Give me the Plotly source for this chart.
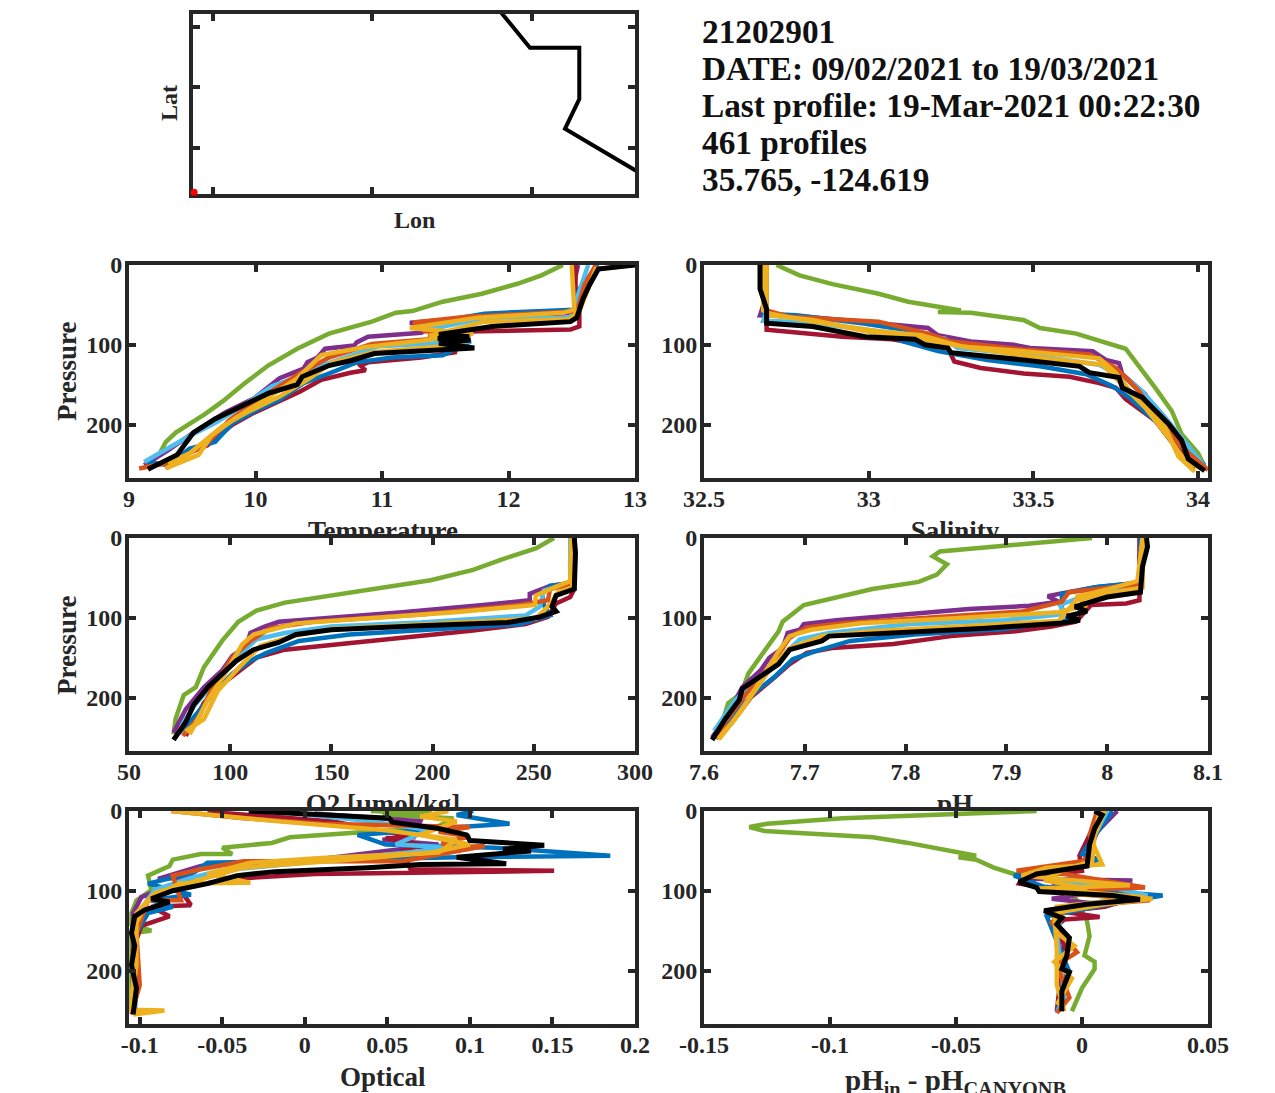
import plotly.graph_objects as go

FONT = "Liberation Serif"
FRAME = "#262626"
W, H = 1275, 1093
INSET = 2  # plotly draws the frame outside the plot area

# MATLAB line colours, in the order the profiles get drawn
COLORS = ["#77AC30", "#7E2F8E", "#A2142F", "#0072BD", "#4DBEEE",
          "#D95319", "#EDB120", "#EDB120", "#000000"]

info_lines = ["21202901", "DATE: 09/02/2021 to 19/03/2021",
              "Last profile: 19-Mar-2021 00:22:30", "461 profiles", "35.765, -124.619"]

# float track
track_lon = [-124.5996, -124.5977, -124.5946, -124.5946, -124.5955, -124.5908]
track_lat = [35.7956, 35.7895, 35.7895, 35.7810, 35.7761, 35.7688]
last_lon = [-124.6188]
last_lat = [35.7656]
lon_ticks = [-124.6176, -124.6076, -124.5976]
lat_ticks = [35.773, 35.783, 35.793]

pressure_ticks = [0, 100, 200]

# Temperature
temp_ticks = [9, 10, 11, 12, 13]
temp_green_x = [12.43, 12.26, 12.07, 11.79, 11.48, 11.24, 11.11, 10.92, 10.58, 10.33, 10.1, 9.9, 9.74, 9.6, 9.37, 9.29, 9.23]
temp_green_p = [0, 13, 23.5, 36, 46, 57.8, 59.8, 70.9, 86, 105, 126, 150, 171, 187, 210, 222, 240]
temp_purple_x = [12.55, 12.52, 12.53, 12.52, 11.59, 11.22, 11.39, 11.31, 10.89, 10.8, 10.78, 10.55, 10.49, 10.41, 10.38, 10.19, 9.99, 9.76, 9.51, 9.31, 9.12]
temp_purple_p = [0, 21, 54, 60, 68, 72.5, 77, 85, 90, 97, 101, 105, 116, 122, 130, 142, 167, 185, 210, 232, 251]
temp_crimson_x = [12.53, 12.53, 12.56, 12.56, 12.49, 11.87, 11.45, 11.37, 11.59, 11.31, 10.89, 10.83, 10.87, 10.75, 10.52, 10.35, 9.99, 9.82, 9.62, 9.43, 9.29]
temp_crimson_p = [0, 30, 46, 77, 81, 82, 84, 88, 109, 116, 122, 126, 132, 135, 144, 159, 185, 200, 226, 238, 255]
temp_blue_x = [12.71, 12.56, 12.52, 11.81, 11.48, 11.39, 11.7, 11.48, 11.08, 10.8, 10.58, 10.38, 10.19, 10.02, 9.82, 9.68, 9.48, 9.31, 9.15]
temp_blue_p = [0, 30, 56, 61, 70, 83, 96, 113, 116, 122, 136, 148, 169, 181, 198, 222, 230, 251, 247]
temp_sky_x = [12.63, 12.54, 12.49, 11.76, 11.37, 11.42, 11.7, 10.97, 10.52, 10.3, 10.13, 9.9, 9.68, 9.46, 9.26, 9.12]
temp_sky_p = [0, 42, 66, 68, 81, 95, 96, 102, 126, 142, 152, 177, 198, 216, 234, 247]
temp_orange_x = [12.69, 12.6, 12.54, 11.67, 11.25, 11.34, 11.7, 11.37, 10.92, 10.58, 10.35, 10.04, 9.79, 9.6, 9.34, 9.08]
temp_orange_p = [0, 25, 58, 65, 72, 83, 87, 93, 99, 116, 136, 167, 195, 226, 247, 255]
temp_yellow_x = [12.5, 12.52, 12.43, 11.76, 11.22, 11.72, 11.31, 10.86, 10.52, 10.33, 10.07, 9.85, 9.65, 9.55, 9.29]
temp_yellow_p = [0, 56, 60, 66, 79, 86, 95, 103, 113, 142, 169, 191, 214, 238, 255]
temp_yellow2_x = [13.0, 12.69, 12.57, 12.49, 11.81, 11.37, 11.67, 11.59, 11.39, 10.94, 10.61, 10.41, 10.19, 9.93, 9.74, 9.6, 9.48, 9.31]
temp_yellow2_p = [0, 5, 54, 68, 71, 89, 94, 101, 103, 109, 122, 144, 165, 185, 202, 220, 236, 249]
temp_black_x = [13.0, 12.71, 12.64, 12.59, 12.54, 12.49, 11.87, 11.45, 11.69, 11.44, 11.7, 11.45, 11.73, 11.45, 10.94, 10.75, 10.58, 10.37, 10.33, 10.1, 9.9, 9.68, 9.51, 9.38, 9.15]
temp_black_p = [0, 5, 25, 42, 66, 71, 77, 87, 90, 92, 94, 98, 104, 107, 111, 120, 126, 140, 150, 161, 177, 193, 210, 238, 256]

# Salinity
sal_ticks = [32.5, 33, 33.5, 34]
sal_green_x = [32.72, 32.79, 32.89, 33.03, 33.12, 33.28, 33.21, 33.31, 33.47, 33.52, 33.63, 33.78, 33.87, 33.92, 33.95, 34.0, 34.02]
sal_green_p = [0, 13, 24, 36, 46, 57, 59, 60, 69, 79, 86, 105, 154, 183, 212, 236, 253]
sal_purple_x = [32.69, 32.69, 32.67, 32.81, 33.03, 33.18, 33.21, 33.31, 33.44, 33.49, 33.68, 33.72, 33.76, 33.77, 33.84, 33.85, 33.92, 33.99, 34.02]
sal_purple_p = [0, 38, 63, 65, 73, 79, 88, 96, 100, 104, 108, 119, 123, 137, 162, 172, 212, 249, 257]
sal_crimson_x = [32.69, 32.69, 32.69, 32.92, 33.07, 33.24, 33.26, 33.34, 33.47, 33.61, 33.7, 33.75, 33.78, 33.87, 33.92, 33.99]
sal_crimson_p = [0, 46, 81, 90, 93, 104, 121, 129, 136, 140, 148, 154, 168, 195, 222, 255]
sal_blue_x = [32.69, 32.69, 32.68, 32.78, 32.98, 33.14, 33.09, 33.21, 33.36, 33.52, 33.66, 33.74, 33.79, 33.9, 33.97, 34.02]
sal_blue_p = [0, 46, 61, 63, 73, 83, 94, 108, 119, 127, 137, 152, 166, 207, 232, 251]
sal_sky_x = [32.69, 32.69, 32.68, 32.82, 33.16, 33.23, 33.27, 33.47, 33.7, 33.79, 33.83, 33.9, 33.98, 34.02]
sal_sky_p = [0, 59, 70, 72, 90, 92, 104, 112, 125, 145, 158, 191, 232, 253]
sal_orange_x = [32.69, 32.69, 32.76, 33.03, 33.18, 33.25, 33.47, 33.67, 33.75, 33.82, 33.89, 33.95, 34.03]
sal_orange_p = [0, 57, 65, 71, 86, 96, 106, 112, 129, 158, 199, 228, 257]
sal_yellow_x = [32.68, 32.68, 32.7, 32.83, 33.03, 33.16, 33.28, 33.47, 33.7, 33.75, 33.8, 33.9, 33.94, 33.99]
sal_yellow_p = [0, 57, 61, 71, 83, 88, 102, 108, 117, 135, 162, 203, 240, 259]
sal_yellow2_x = [32.69, 32.69, 32.83, 32.99, 33.16, 33.31, 33.53, 33.71, 33.77, 33.84, 33.91, 33.96, 34.02]
sal_yellow2_p = [0, 63, 69, 83, 93, 104, 117, 125, 150, 179, 216, 245, 257]
sal_black_x = [32.67, 32.67, 32.69, 32.69, 32.83, 32.99, 33.14, 33.17, 33.24, 33.25, 33.47, 33.64, 33.67, 33.76, 33.77, 33.83, 33.91, 33.95, 33.97, 34.02]
sal_black_p = [0, 30, 55, 73, 77, 90, 93, 100, 104, 110, 119, 127, 135, 141, 154, 166, 199, 220, 243, 258]

# Oxygen
o2_ticks = [50, 100, 150, 200, 250, 300]
o2_green_x = [260, 251, 234, 220, 199, 176, 150, 127, 113, 104, 96, 87, 83, 77, 73, 72]
o2_green_p = [0, 13, 27, 40, 53, 62, 72, 81, 91, 105, 129, 162, 187, 197, 227, 246]
o2_purple_x = [270, 270, 258, 248, 248, 225, 185, 141, 124, 117, 110, 108, 101, 96, 87, 78, 72]
o2_purple_p = [0, 56, 60, 70, 78, 84, 93, 101, 105, 111, 119, 135, 148, 166, 187, 215, 244]
o2_crimson_x = [270, 270, 268, 261, 257, 246, 220, 176, 150, 127, 113, 106, 94, 87, 78]
o2_crimson_p = [0, 64, 74, 82, 99, 108, 116, 127, 133, 140, 150, 164, 187, 207, 248]
o2_blue_x = [269, 269, 258, 254, 255, 258, 243, 202, 159, 134, 118, 110, 101, 91, 80, 74]
o2_blue_p = [0, 56, 60, 70, 84, 97, 108, 114, 121, 129, 144, 154, 170, 197, 231, 246]
o2_sky_x = [268, 268, 255, 253, 246, 194, 150, 127, 113, 103, 92, 82, 76]
o2_sky_p = [0, 56, 66, 86, 97, 106, 111, 119, 127, 150, 182, 211, 235]
o2_orange_x = [270, 269, 258, 257, 243, 194, 141, 120, 110, 101, 90.5, 85, 76.6]
o2_orange_p = [0, 58, 64, 78, 84, 96, 105, 113, 129, 150, 191, 223, 248]
o2_yellow_x = [268.5, 268, 262, 251, 250.5, 211, 167, 132.5, 111.5, 106, 97.5, 89, 80]
o2_yellow_p = [0, 54, 60, 72, 84, 93, 101, 107, 121, 133, 170, 203, 246]
o2_yellow2_x = [269, 269, 262, 258.5, 251, 202, 150, 131, 115, 104.5, 94, 87, 78]
o2_yellow2_p = [0, 62, 68, 82, 101, 107, 114, 123, 135, 162, 191, 227, 242]
o2_black_x = [270, 270.6, 270, 261, 259, 261, 253, 237, 194, 150, 132.5, 124, 111.5, 103, 89, 82, 78, 72]
o2_black_p = [0, 19, 64, 72, 86, 92, 99, 106, 110, 115, 121, 131, 140, 154, 187, 209, 231, 253]

# pH
ph_ticks = [7.6, 7.7, 7.8, 7.9, 8, 8.1]
ph_green_x = [7.985, 7.934, 7.88, 7.834, 7.827, 7.841, 7.831, 7.813, 7.767, 7.731, 7.699, 7.678, 7.674, 7.662, 7.644, 7.637, 7.624, 7.617, 7.614]
ph_green_p = [0, 6, 11, 17, 23, 33, 46, 55, 64, 74, 84, 105, 117, 138, 170, 195, 207, 236, 252]
ph_purple_x = [8.036, 8.032, 8.032, 7.987, 7.952, 7.941, 7.952, 7.923, 7.863, 7.791, 7.731, 7.699, 7.695, 7.683, 7.678, 7.665, 7.656, 7.638, 7.621, 7.608]
ph_purple_p = [0, 23, 56, 62, 70, 73, 80, 85, 89, 97, 103, 108, 115, 119, 138, 150, 166, 187, 227, 250]
ph_crimson_x = [8.032, 8.032, 8.032, 8.019, 7.984, 7.969, 7.945, 7.909, 7.845, 7.788, 7.727, 7.702, 7.685, 7.667, 7.647, 7.628, 7.614]
ph_crimson_p = [0, 60, 78, 82, 84, 105, 111, 117, 123, 133, 138, 144, 158, 178, 199, 231, 250]
ph_blue_x = [8.033, 8.033, 7.991, 7.955, 7.955, 7.962, 7.898, 7.809, 7.745, 7.71, 7.688, 7.67, 7.649, 7.628, 7.61]
ph_blue_p = [0, 56, 61, 70, 89, 103, 114, 121, 129, 142, 152, 174, 195, 223, 248]
ph_sky_x = [8.035, 8.033, 7.987, 7.953, 7.959, 7.898, 7.802, 7.724, 7.695, 7.681, 7.66, 7.631, 7.61]
ph_sky_p = [0, 62, 68, 84, 95, 103, 108, 119, 127, 144, 170, 203, 242]
ph_orange_x = [8.035, 8.032, 7.962, 7.955, 7.916, 7.816, 7.738, 7.702, 7.685, 7.667, 7.642, 7.621, 7.612]
ph_orange_p = [0, 58, 68, 80, 92, 101, 107, 112, 125, 158, 195, 231, 252]
ph_yellow_x = [8.035, 8.03, 8.001, 7.969, 7.98, 7.952, 7.845, 7.756, 7.706, 7.685, 7.674, 7.649, 7.638, 7.615]
ph_yellow_p = [0, 54, 64, 74, 84, 93, 101, 107, 115, 123, 142, 191, 215, 252]
ph_yellow2_x = [8.036, 8.035, 7.998, 7.969, 7.952, 7.845, 7.767, 7.717, 7.685, 7.667, 7.646, 7.628, 7.614]
ph_yellow2_p = [0, 62, 70, 78, 104, 111, 117, 123, 138, 162, 199, 231, 252]
ph_black_x = [8.039, 8.04, 8.035, 8.033, 8.0, 7.977, 7.968, 7.98, 7.96, 7.973, 7.952, 7.88, 7.791, 7.724, 7.717, 7.685, 7.674, 7.66, 7.638, 7.635, 7.621, 7.608]
ph_black_p = [0, 11, 36, 68, 74, 82, 86, 92, 98, 103, 107, 113, 118, 123, 129, 140, 158, 170, 189, 203, 227, 253]

# Optical
opt_ticks = [-0.1, -0.05, 0, 0.05, 0.1, 0.15, 0.2]
opt_labels = ["-0.1", "-0.05", "0", "0.05", "0.1", "0.15", "0.2"]
opt_green_x = [0.04, 0.077, 0.047, 0.09, 0.08, 0.027, 0.006, -0.009, -0.02, -0.05, -0.044, -0.063, -0.08, -0.082, -0.095, -0.093, -0.102, -0.105, -0.105, -0.093, -0.105, -0.105, -0.105]
opt_green_p = [0, 3, 5, 9, 20, 28, 30, 33, 40, 46, 54, 54, 61, 69, 81, 99, 112, 128, 142, 150, 153, 193, 251]
opt_purple_x = [0.006, 0.07, 0.066, 0.047, 0.081, 0.006, -0.063, -0.089, -0.067, -0.099, -0.104, -0.104]
opt_purple_p = [3, 13, 32, 36, 42, 61, 69, 85, 83, 108, 128, 251]
opt_crimson_x = [-0.059, 0.017, 0.067, 0.049, 0.07, 0.059, 0.064, 0.151, 0.006, -0.044, -0.076, -0.069, -0.093, -0.082, -0.099, -0.104, -0.104]
opt_crimson_p = [1, 13, 33, 34, 42, 50, 73, 75, 79, 85, 97, 118, 120, 132, 144, 173, 255]
opt_blue_x = [0.102, 0.092, 0.124, 0.094, 0.032, 0.049, 0.115, 0.185, 0.092, 0.006, -0.059, -0.067, -0.095, -0.069, -0.093, -0.08, -0.095, -0.102, -0.102, -0.103]
opt_blue_p = [0, 5, 16, 20, 30, 42, 46, 56, 58, 62, 65, 77, 91, 105, 112, 120, 128, 153, 202, 255]
opt_sky_x = [-0.02, 0.04, 0.075, 0.055, 0.092, -0.003, -0.052, -0.071, -0.091, -0.102, -0.103]
opt_sky_p = [0, 13, 24, 42, 46, 65, 75, 85, 99, 132, 251]
opt_orange_x = [-0.081, -0.037, 0.01, 0.1, 0.081, 0.1, 0.083, 0.087, 0.109, 0.059, -0.037, -0.063, -0.08, -0.075, -0.095, -0.102, -0.1, -0.105]
opt_orange_p = [0, 9, 16, 20, 26, 32, 40, 46, 44, 63, 63, 73, 81, 112, 112, 153, 218, 255]
opt_yellow_x = [-0.081, -0.016, 0.049, 0.092, 0.081, 0.01, -0.033, -0.059, -0.033, -0.076, -0.095, -0.103, -0.103, -0.105, -0.085, -0.104]
opt_yellow_p = [0, 13, 24, 36, 52, 59, 65, 79, 90, 91, 112, 144, 185, 249, 250, 255]
opt_yellow2_x = [0.087, 0.07, 0.092, 0.07, 0.1, 0.077, 0.027, -0.037, -0.065, -0.091, -0.102, -0.102, -0.105]
opt_yellow2_p = [0, 7, 13, 30, 42, 52, 61, 71, 87, 103, 128, 193, 234]
opt_black_x = [-0.034, 0.01, 0.051, 0.053, 0.081, 0.098, 0.1, 0.145, 0.12, 0.137, 0.092, 0.122, 0.07, 0.038, -0.018, -0.041, -0.059, -0.08, -0.093, -0.082, -0.097, -0.103, -0.105, -0.103, -0.105, -0.102, -0.104]
opt_black_p = [0, 5, 9, 14, 22, 30, 37, 43, 48, 50, 58, 66, 67, 71, 76, 81, 91, 100, 110, 114, 124, 132, 153, 169, 193, 222, 255]

# pH difference from CANYON-B
dph_ticks = [-0.15, -0.1, -0.05, 0, 0.05]
dph_labels = ["-0.15", "-0.1", "-0.05", "0", "0.05"]
dph_green_x = [-0.018, -0.038, -0.095, -0.125, -0.132, -0.126, -0.102, -0.083, -0.069, -0.052, -0.042, -0.049, -0.042, -0.035, -0.027, -0.01, -0.002, 0.002, 0.003, 0.001, 0.005, 0.005, 0.0, -0.004]
dph_green_p = [0, 2, 9, 16, 20, 25, 30, 33, 40, 50, 56, 58, 61, 71, 79, 87, 112, 138, 157, 181, 189, 198, 222, 251]
dph_purple_x = [0.014, 0.006, 0.003, 0.005, -0.017, -0.021, 0.02, -0.012, 0.018, -0.012, 0.005, -0.011, -0.011, -0.007, -0.008]
dph_purple_p = [0, 26, 50, 67, 77, 85, 87, 94, 96, 110, 116, 128, 144, 193, 251]
dph_crimson_x = [0.01, 0.003, -0.001, 0.0, -0.024, -0.025, -0.007, 0.022, 0.009, -0.008, 0.007, -0.007, -0.01, -0.007, -0.01]
dph_crimson_p = [0, 30, 56, 75, 85, 91, 101, 108, 120, 126, 133, 136, 144, 169, 251]
dph_blue_x = [0.012, 0.006, 0.0, 0.007, -0.01, -0.027, -0.015, 0.032, 0.009, -0.014, -0.012, -0.01, -0.005, -0.01]
dph_blue_p = [0, 26, 54, 61, 69, 81, 95, 106, 118, 132, 148, 165, 202, 253]
dph_sky_x = [0.01, 0.005, 0.002, -0.015, -0.011, 0.008, 0.026, -0.007, -0.01, -0.007, -0.01]
dph_sky_p = [0, 30, 67, 73, 87, 93, 106, 120, 153, 234, 253]
dph_orange_x = [0.006, 0.003, 0.005, 0.0, -0.026, -0.007, 0.025, -0.014, 0.027, -0.005, -0.012, -0.002, -0.01, -0.005, -0.01]
dph_orange_p = [0, 30, 50, 63, 75, 79, 96, 101, 112, 120, 140, 177, 193, 234, 253]
dph_yellow_x = [0.009, 0.004, 0.008, -0.014, -0.024, 0.019, -0.017, 0.025, -0.01, -0.01, -0.003, -0.011, -0.004, -0.01]
dph_yellow_p = [0, 38, 67, 71, 81, 93, 97, 108, 120, 153, 169, 189, 210, 243]
dph_yellow2_x = [0.007, 0.005, 0.004, -0.007, -0.015, 0.002, -0.007, 0.028, 0.009, -0.011, -0.01, -0.01, -0.007]
dph_yellow2_p = [0, 30, 63, 73, 87, 97, 103, 110, 117, 128, 173, 218, 251]
dph_black_x = [0.005, 0.008, 0.005, 0.003, 0.002, -0.012, -0.018, -0.025, -0.018, -0.017, 0.012, 0.023, 0.002, -0.015, -0.008, -0.01, -0.005, -0.006, -0.008, -0.005, -0.008, -0.008]
dph_black_p = [0, 5, 22, 42, 69, 75, 79, 89, 96, 101, 106, 111, 117, 125, 134, 142, 159, 181, 198, 202, 226, 251]

# per panel: pixel box, x range, ticks, tick labels, profiles
panels = [
    dict(box=(127, 637, 263, 480), xrange=[9, 13], ticks=temp_ticks, labels=None,
         series=[(temp_green_x, temp_green_p), (temp_purple_x, temp_purple_p), (temp_crimson_x, temp_crimson_p),
                 (temp_blue_x, temp_blue_p), (temp_sky_x, temp_sky_p), (temp_orange_x, temp_orange_p),
                 (temp_yellow_x, temp_yellow_p), (temp_yellow2_x, temp_yellow2_p), (temp_black_x, temp_black_p)]),
    dict(box=(702, 1210, 263, 480), xrange=[32.5, 34.03], ticks=sal_ticks, labels=None,
         series=[(sal_green_x, sal_green_p), (sal_purple_x, sal_purple_p), (sal_crimson_x, sal_crimson_p),
                 (sal_blue_x, sal_blue_p), (sal_sky_x, sal_sky_p), (sal_orange_x, sal_orange_p),
                 (sal_yellow_x, sal_yellow_p), (sal_yellow2_x, sal_yellow2_p), (sal_black_x, sal_black_p)]),
    dict(box=(127, 637, 536, 753), xrange=[50, 300], ticks=o2_ticks, labels=None,
         series=[(o2_green_x, o2_green_p), (o2_purple_x, o2_purple_p), (o2_crimson_x, o2_crimson_p),
                 (o2_blue_x, o2_blue_p), (o2_sky_x, o2_sky_p), (o2_orange_x, o2_orange_p),
                 (o2_yellow_x, o2_yellow_p), (o2_yellow2_x, o2_yellow2_p), (o2_black_x, o2_black_p)]),
    dict(box=(702, 1210, 536, 753), xrange=[7.6, 8.1], ticks=ph_ticks, labels=None,
         series=[(ph_green_x, ph_green_p), (ph_purple_x, ph_purple_p), (ph_crimson_x, ph_crimson_p),
                 (ph_blue_x, ph_blue_p), (ph_sky_x, ph_sky_p), (ph_orange_x, ph_orange_p),
                 (ph_yellow_x, ph_yellow_p), (ph_yellow2_x, ph_yellow2_p), (ph_black_x, ph_black_p)]),
    dict(box=(127, 637, 809, 1026), xrange=[-0.1065, 0.2], ticks=opt_ticks, labels=opt_labels,
         series=[(opt_green_x, opt_green_p), (opt_purple_x, opt_purple_p), (opt_crimson_x, opt_crimson_p),
                 (opt_blue_x, opt_blue_p), (opt_sky_x, opt_sky_p), (opt_orange_x, opt_orange_p),
                 (opt_yellow_x, opt_yellow_p), (opt_yellow2_x, opt_yellow2_p), (opt_black_x, opt_black_p)]),
    dict(box=(702, 1210, 809, 1026), xrange=[-0.15, 0.05], ticks=dph_ticks, labels=dph_labels,
         series=[(dph_green_x, dph_green_p), (dph_purple_x, dph_purple_p), (dph_crimson_x, dph_crimson_p),
                 (dph_blue_x, dph_blue_p), (dph_sky_x, dph_sky_p), (dph_orange_x, dph_orange_p),
                 (dph_yellow_x, dph_yellow_p), (dph_yellow2_x, dph_yellow2_p), (dph_black_x, dph_black_p)]),
]

# x labels that the next row of axes cuts off: text, centre x, centre y, box of the visible part
cut_titles = [
    ("Temperature", 383, 533, (127, 637, 505, 534)),
    ("Salinity", 955, 533, (702, 1210, 505, 534)),
    ("O2 [µmol/kg]", 383, 806, (127, 637, 780, 807)),
    ("pH", 955, 806, (702, 1210, 780, 807)),
]


def dom_x(left, right):
    return [left / W, right / W]


def dom_y(top, bottom):
    return [1 - bottom / H, 1 - top / H]


def axis_style(tickvals, ticktext=None, labels=True, standoff=0):
    style = dict(
        showline=True, linecolor=FRAME, linewidth=4, mirror="allticks",
        ticks="inside", ticklen=7, tickwidth=4, tickcolor=FRAME,
        tickvals=tickvals, showgrid=False, zeroline=False, showticklabels=labels,
        ticklabelstandoff=standoff,
        tickfont=dict(family=FONT, size=24, color=FRAME, weight="bold"),
    )
    if ticktext is not None:
        style["ticktext"] = ticktext
    return style


fig = go.Figure()
layout = dict(
    width=W, height=H, autosize=False, showlegend=False,
    margin=dict(l=0, r=0, t=0, b=0, pad=0, autoexpand=False),
    paper_bgcolor="white", plot_bgcolor="white",
)

# map panel, frame kept under the track so the red dot shows
layout["xaxis"] = dict(axis_style(lon_ticks, labels=False), domain=dom_x(191 + INSET, 637 - INSET),
                       range=[-124.61887, -124.5911], layer="below traces")
layout["yaxis"] = dict(axis_style(lat_ticks, labels=False), domain=dom_y(12 + INSET, 196 - INSET),
                       range=[35.76533, 35.79507], layer="below traces")
fig.add_trace(go.Scatter(x=track_lon, y=track_lat, mode="lines", line=dict(color="black", width=4),
                         xaxis="x", yaxis="y", hoverinfo="skip"))
fig.add_trace(go.Scatter(x=last_lon, y=last_lat, mode="markers", marker=dict(color="red", size=7),
                         cliponaxis=False, xaxis="x", yaxis="y", hoverinfo="skip"))

# profile panels
n = 2
for panel in panels:
    left, right, top, bottom = panel["box"]
    layout[f"xaxis{n}"] = dict(axis_style(panel["ticks"], panel["labels"], standoff=-4),
                               domain=dom_x(left + INSET, right - INSET),
                               range=panel["xrange"], anchor=f"y{n}")
    layout[f"yaxis{n}"] = dict(axis_style(pressure_ticks, standoff=-2),
                               domain=dom_y(top + INSET, bottom - INSET),
                               range=[267, 0], anchor=f"x{n}")
    for (xs, ps), color in zip(panel["series"], COLORS):
        fig.add_trace(go.Scatter(x=xs, y=ps, mode="lines", xaxis=f"x{n}", yaxis=f"y{n}",
                                 line=dict(color=color, width=5 if color == "#000000" else 4.5),
                                 hoverinfo="skip"))
    n += 1

# hidden helper axes, they clip the cut off labels at the next row
for text, cx, cy, (left, right, top, bottom) in cut_titles:
    layout[f"xaxis{n}"] = dict(domain=dom_x(left, right), range=[left, right], visible=False, anchor=f"y{n}")
    layout[f"yaxis{n}"] = dict(domain=dom_y(top, bottom), range=[bottom, top], visible=False, anchor=f"x{n}")
    fig.add_trace(go.Scatter(x=[cx], y=[cy], mode="text", text=[text], textposition="middle center",
                             textfont=dict(family=FONT, size=27, color=FRAME, weight="bold"),
                             cliponaxis=True, xaxis=f"x{n}", yaxis=f"y{n}", hoverinfo="skip"))
    n += 1


def label(text, x, y, size=27, angle=0, anchor="center", color=FRAME):
    return dict(text=text, x=x / W, y=1 - y / H, xref="paper", yref="paper", showarrow=False,
                xanchor=anchor, yanchor="middle", textangle=angle,
                font=dict(family=FONT, size=size, color=color, weight="bold"))


annotations = [
    label("Lon", 414, 220, size=24),
    label("Lat", 169, 103, size=24, angle=-90),
    label("Pressure", 67, 371, angle=-90),
    label("Pressure", 67, 645, angle=-90),
    label("Optical", 383, 1077),
    label("pH<sub>in</sub> - pH<sub>CANYONB</sub>", 955, 1082, size=29),
]
for i, line in enumerate(info_lines):
    annotations.append(label(line, 700, 31 + 37.2 * i, size=33.3, anchor="left", color="#111111"))
layout["annotations"] = annotations

fig.update_layout(**layout)
fig.write_html("out.html", config={"displayModeBar": False},
               post_script="document.body.style.margin='0'")
